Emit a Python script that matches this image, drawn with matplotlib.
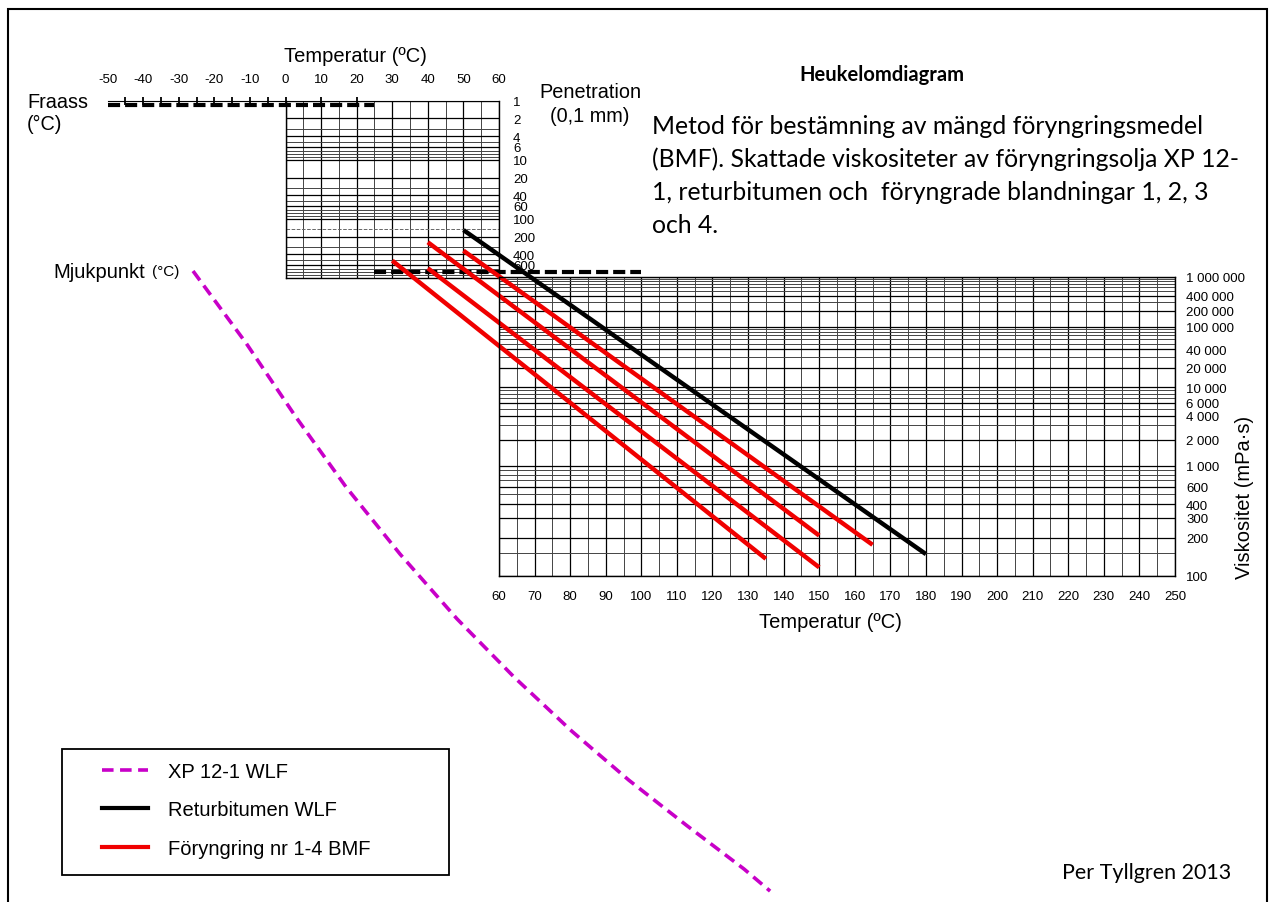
import numpy as np
import matplotlib
matplotlib.use('Agg')
import matplotlib.pyplot as plt
import matplotlib.patches as patches
import matplotlib.transforms as mtransforms
from matplotlib.lines import Line2D
from matplotlib.ticker import FixedLocator, FixedFormatter, NullFormatter

# ---- data ----
top_temps = [-50, -40, -30, -20, -10, 0, 10, 20, 30, 40, 50, 60]
bottom_temps = list(range(60, 251, 10))

pen_labels = [1, 2, 4, 6, 10, 20, 40, 60, 100, 200, 400, 600]
visc_labels = [1000000, 400000, 200000, 100000, 40000, 20000, 10000,
               6000, 4000, 2000, 1000, 600, 400, 300, 200, 100]

# Fraass scale (pen ~1.2) and softening point scale (pen 800)
fraass_temp = [-50, 25]
fraass_pen = 1.2
fraass_ticks = [-45, -40, -35, -30, -25, -20, -15, -10, -5, 0, 10, 20]
soft_temp = [25, 100]
soft_pen = 800

# estimated viscosity curves: temperature (°C) / viscosity (mPa·s)
xp_temp = [-26.0, -11.1, 2.9, 17.0, 32.2, 48.2, 64.2, 80.5, 96.5, 112.8, 128.9, 136.2]
xp_visc = [1.36e6, 5.1e4, 3870, 594, 147, 51.1, 24.0, 13.5, 8.8, 6.3, 4.8, 4.25]

ret_temp = [50, 180]
ret_visc = [1.35e7, 147]

bmf_temp = [[30, 135], [40, 150], [40, 150], [50, 165]]
bmf_visc = [[2.35e6, 135], [1.57e6, 116], [6.56e6, 209], [4.07e6, 175]]

MAGENTA = '#C800C8'
RED = '#F00000'
CAL = ['Lato', 'DejaVu Sans']

plt.rcParams['font.family'] = ['Liberation Sans', 'DejaVu Sans']

W, H = 1270, 903
def fx(px):
    return px / W
def fy(py):
    return 1 - py / H

fig = plt.figure(figsize=(12.7, 9.03), dpi=100)

# log-log viscosity scale used by the Heukelom chart
def fwd(v):
    with np.errstate(all='ignore'):
        return np.log10(np.log10(v))
def inv(y):
    return 10 ** (10 ** y)

# lower grid: viscosity
ax_v = fig.add_axes([fx(499), fy(577), 676 / W, 299 / H])
ax_v.set_xlim(60, 250)
ax_v.set_yscale('function', functions=(fwd, inv))
ax_v.set_ylim(100, 1e6)
ax_v.set_xticks(bottom_temps)
ax_v.xaxis.set_minor_locator(FixedLocator(np.arange(65, 250, 10)))
ax_v.yaxis.set_major_locator(FixedLocator(visc_labels))
ax_v.yaxis.set_major_formatter(
    FixedFormatter([f'{v:,}'.replace(',', ' ') for v in visc_labels]))
vminor = [m * 10 ** e for e in range(2, 6) for m in range(1, 10)] + [150]
ax_v.yaxis.set_minor_locator(FixedLocator(vminor))
ax_v.yaxis.set_minor_formatter(NullFormatter())
ax_v.yaxis.tick_right()
ax_v.tick_params(which='both', length=0, labelsize=9.5)
ax_v.tick_params(axis='x', pad=10)
ax_v.tick_params(axis='y', pad=8)
ax_v.grid(which='major', color='black', lw=0.9)
ax_v.grid(which='minor', color='#444444', lw=0.7)
for s in ax_v.spines.values():
    s.set_linewidth(1.0)

# upper grid: penetration
ax_p = fig.add_axes([fx(285.5), fy(279), 213.5 / W, 177.3 / H])
ax_p.set_xlim(0, 60)
ax_p.set_yscale('log')
ax_p.set_ylim(1000, 1)
ax_p.xaxis.set_major_locator(FixedLocator(range(0, 61, 10)))
ax_p.xaxis.set_minor_locator(FixedLocator(range(5, 60, 10)))
ax_p.set_xticklabels([])
ax_p.yaxis.set_major_locator(FixedLocator(pen_labels))
ax_p.yaxis.set_major_formatter(FixedFormatter([str(p) for p in pen_labels]))
pminor = [m * 10 ** e for e in range(0, 3) for m in range(1, 10)]
ax_p.yaxis.set_minor_locator(FixedLocator(pminor))
ax_p.yaxis.set_minor_formatter(NullFormatter())
ax_p.yaxis.tick_right()
ax_p.tick_params(which='both', length=0, labelsize=9.5)
ax_p.tick_params(axis='y', pad=10)
ax_p.grid(which='major', color='black', lw=0.9)
ax_p.grid(which='minor', color='#444444', lw=0.7)
ax_p.axhline(150, color='#666666', lw=0.7, ls='--')
for s in ax_p.spines.values():
    s.set_linewidth(1.0)
ax_p.spines['top'].set_visible(False)

# Fraass and softening point scales
ax_p.plot([-50, 60], [1, 1], color='black', lw=0.8, clip_on=False)
ax_p.vlines(fraass_ticks, 0.87, fraass_pen, color='black', lw=1.3, clip_on=False)
ax_p.plot(fraass_temp, [fraass_pen] * 2, color='black', lw=3, ls=(0, (2.9, 1.2)),
          clip_on=False)
ax_p.plot(soft_temp, [soft_pen] * 2, color='black', lw=3, ls=(0, (2.9, 1.2)),
          clip_on=False, zorder=3)

# curves, drawn in the viscosity axes and allowed to run outside it
ax_v.set_zorder(3)
ax_v.patch.set_visible(False)
ax_v.plot(xp_temp, xp_visc, color=MAGENTA, lw=2.6, ls=(0, (3.2, 1.8)), clip_on=False)
for t, v in zip(bmf_temp, bmf_visc):
    ax_v.plot(t, v, color=RED, lw=3.2, clip_on=False, solid_capstyle='butt')
ax_v.plot(ret_temp, ret_visc, color='black', lw=3.2, clip_on=False, solid_capstyle='butt')

# top temperature labels
blend = mtransforms.blended_transform_factory(ax_p.transData, fig.transFigure)
for t in top_temps:
    fig.text(t, fy(80), str(t), transform=blend, ha='center', va='center', fontsize=9.5)

fig.text(fx(355), fy(57), 'Temperatur (ºC)', ha='center', va='center', fontsize=14.5)
fig.text(fx(27), fy(103), 'Fraass', ha='left', va='center', fontsize=14.3)
fig.text(fx(27), fy(124), '(°C)', ha='left', va='center', fontsize=14.3)
fig.text(fx(590), fy(93), 'Penetration', ha='center', va='center', fontsize=14.3)
fig.text(fx(590), fy(117), '(0,1 mm)', ha='center', va='center', fontsize=14.3)
fig.text(fx(53), fy(272), 'Mjukpunkt', ha='left', va='center', fontsize=14.5)
fig.text(fx(152), fy(272), '(°C)', ha='left', va='center', fontsize=11)
fig.text(fx(830), fy(623), 'Temperatur (ºC)', ha='center', va='center', fontsize=14.5)
fig.text(fx(1245), fy(497), 'Viskositet (mPa·s)', ha='center', va='center',
         fontsize=14.5, rotation=90)

fig.text(fx(882), fy(75), 'Heukelomdiagram', ha='center', va='center',
         fontsize=14.5, fontweight='bold', family=CAL)
desc = ['Metod för bestämning av mängd föryngringsmedel',
        '(BMF). Skattade viskositeter av föryngringsolja XP 12-',
        '1, returbitumen och  föryngrade blandningar 1, 2, 3',
        'och 4.']
for i, line in enumerate(desc):
    fig.text(fx(652), fy(127 + 32.7 * i), line, ha='left', va='center',
             fontsize=17.8, family=CAL)
fig.text(fx(1062), fy(873), 'Per Tyllgren 2013', ha='left', va='center',
         fontsize=15.5, family=CAL)

# legend
fig.patches.append(patches.Rectangle((fx(62), fy(876)), 387 / W, 126 / H, fill=False,
                                     ec='black', lw=1.3, transform=fig.transFigure))
handles = [Line2D([], [], color=MAGENTA, lw=2.6, ls=(0, (3.2, 1.8))),
           Line2D([], [], color='black', lw=3),
           Line2D([], [], color=RED, lw=3)]
fig.legend(handles, ['XP 12-1 WLF', 'Returbitumen WLF', 'Föryngring nr 1-4 BMF'],
           loc='upper left', bbox_to_anchor=(fx(102), fy(763)), frameon=False,
           borderpad=0, borderaxespad=0, fontsize=14.5, handlelength=2.3,
           handletextpad=1.0, labelspacing=0.96)

# outer frame
fig.patches.append(patches.Rectangle((fx(8), -0.02), 1259 / W, (H - 10) / H + 0.02,
                                     fill=False, ec='black', lw=1.5,
                                     transform=fig.transFigure))

fig.savefig('out.png', dpi=100)
